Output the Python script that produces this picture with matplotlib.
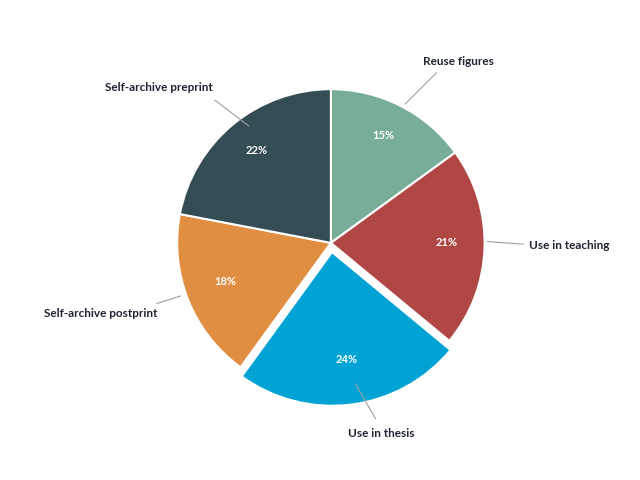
import matplotlib.pyplot as plt

labels = ['Reuse figures', 'Use in teaching', 'Use in thesis', 'Self-archive postprint', 'Self-archive preprint']
values = [15, 21, 24, 18, 22]
colors = ['#78ae98', '#b04745', '#00a3d4', '#e08e41', '#344d55']
explode = [0, 0, 0.06, 0, 0]

# label text positions, leader line end points, percent text positions (data units, radius=1)
label_pos = [(0.83, 1.18), (1.55, -0.02), (0.33, -1.24), (-1.5, -0.46), (-1.12, 1.01)]
line_from = [(0.70, 1.12), (1.27, -0.01), (0.30, -1.16), (-1.15, -0.40), (-0.77, 0.94)]
line_to = [(0.47, 0.89), (1.0, 0.01), (0.15, -0.90), (-0.96, -0.34), (-0.52, 0.75)]
pct_pos = [(0.34, 0.70), (0.75, 0.0), (0.10, -0.76), (-0.69, -0.25), (-0.48, 0.60)]

plt.rcParams['font.family'] = ['Lato', 'DejaVu Sans']
fig = plt.figure(figsize=(6.4, 4.8), dpi=100)
ax = fig.add_axes([0.272, 0.167, 0.49, 0.654])
ax.pie(values, colors=colors, explode=explode, startangle=90, counterclock=False,
       wedgeprops=dict(edgecolor='white', linewidth=1.5))
ax.set_xlim(-1.02, 1.02)
ax.set_ylim(-1.02, 1.02)
ax.set_aspect('equal')

for lab, v, lp, lf, lt, pp in zip(labels, values, label_pos, line_from, line_to, pct_pos):
    ax.annotate('', xy=lt, xytext=lf,
                arrowprops=dict(arrowstyle='-', color='#a0a0a0', lw=0.8), annotation_clip=False)
    ax.text(lp[0], lp[1], lab, ha='center', va='center', fontsize=8.5,
            fontweight='bold', color='#1e2430', clip_on=False)
    ax.text(pp[0], pp[1], f'{v}%', ha='center', va='center', fontsize=8,
            fontweight='bold', color='white')

fig.savefig('out.png', dpi=100, facecolor='white')
